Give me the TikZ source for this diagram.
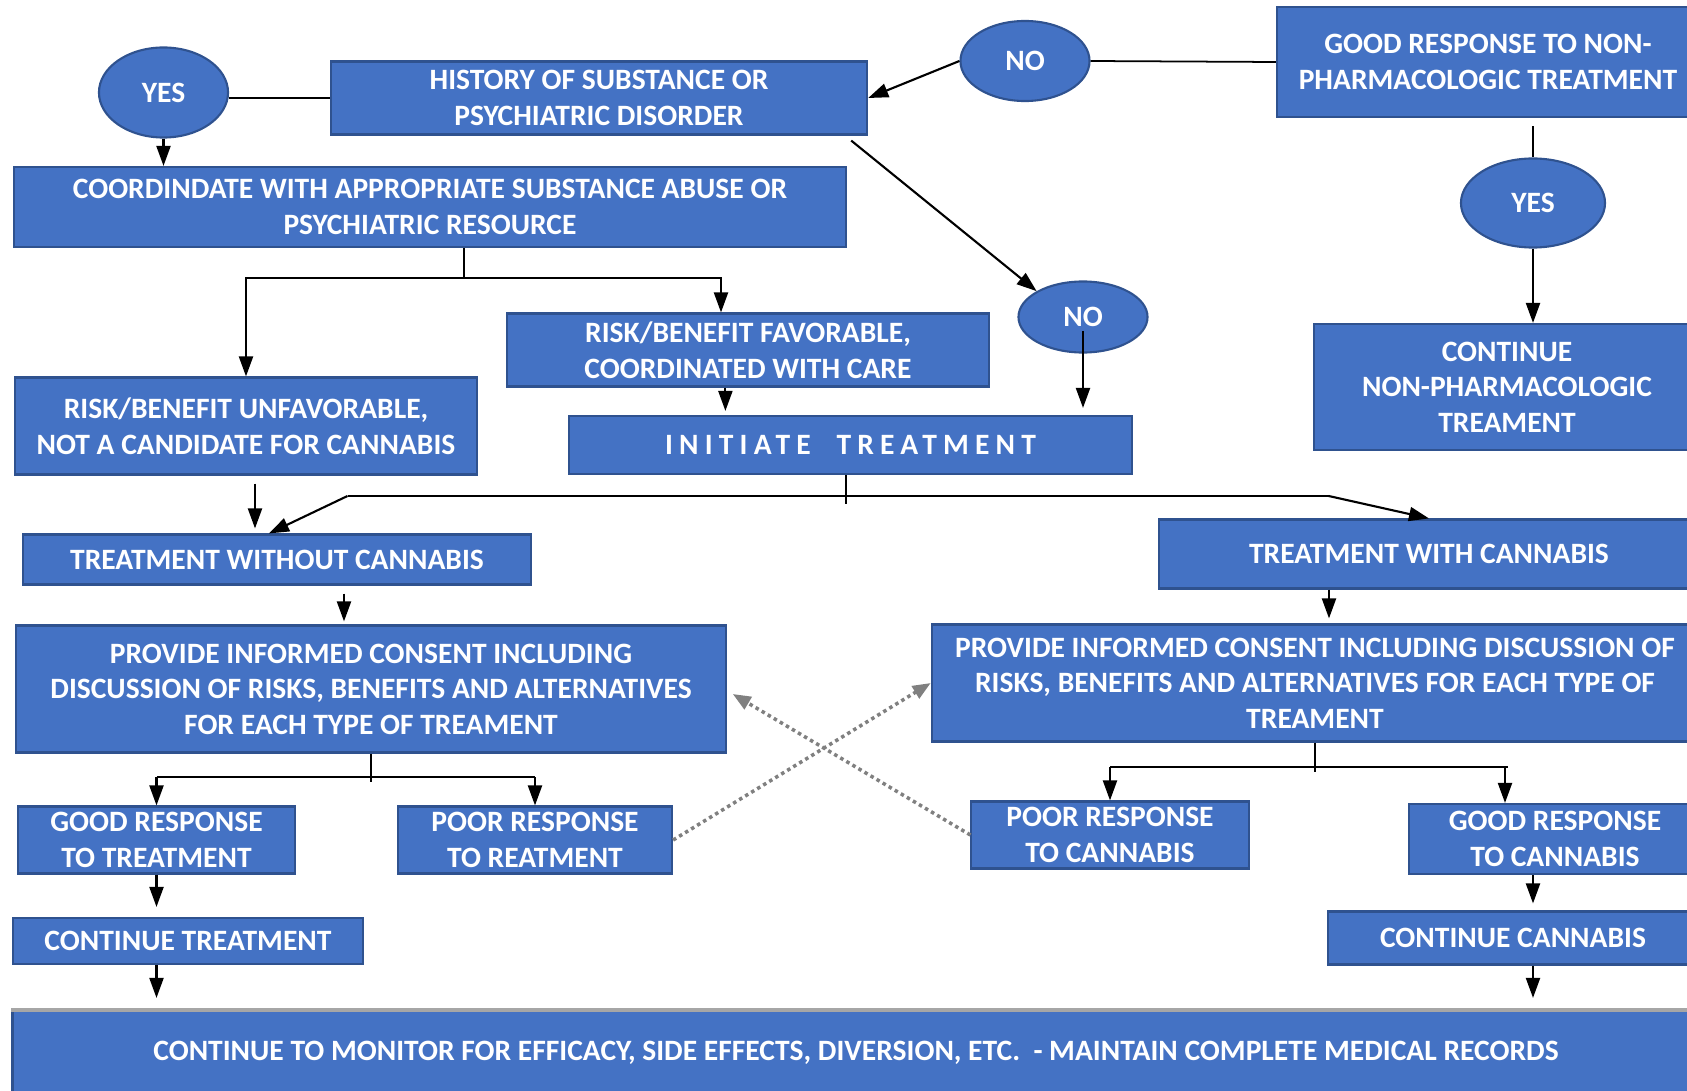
\documentclass[tikz,border=0pt]{standalone}
\usepackage{fontspec}
\setmainfont{Carlito}
\usetikzlibrary{arrows.meta, shapes.geometric, calc}

\definecolor{boxblue}{HTML}{4472C4}
\definecolor{boxline}{HTML}{2F528F}

\begin{document}
\begin{tikzpicture}[
	x=0.01cm, y=-0.01cm,
	block/.style={rectangle, draw=boxline, line width=0.6pt, fill=boxblue, text=white, align=center, inner sep=0pt,
		font=\fontsize{8.4}{10.1}\selectfont\bfseries},
	decision/.style={ellipse, draw=boxline, line width=0.6pt, fill=boxblue, text=white, inner sep=0pt,
		font=\fontsize{8.4}{10.1}\selectfont\bfseries},
	arrow/.style={-{Triangle[length=2mm, width=1.4mm]}, line width=0.6pt},
	link/.style={line width=0.5pt},
	retry/.style={-{Triangle[length=1.8mm, width=1.4mm]}, densely dotted, line width=1pt, gray}
]
	\useasboundingbox (0,0) rectangle (1687,1091);
	\clip (0,0) rectangle (1687,1091);

	% Screening
	\node[block, minimum width=5.36cm, minimum height=0.73cm] (history) at (599,98) {HISTORY OF SUBSTANCE OR\\PSYCHIATRIC DISORDER};
	\node[decision, minimum width=1.29cm, minimum height=0.90cm] (yes1) at (163.5,92.5) {YES};
	\node[decision, minimum width=1.29cm, minimum height=0.80cm] (no1) at (1025,61) {NO};
	\node[block, minimum width=4.22cm, minimum height=1.10cm] (goodnp) at (1488,62) {GOOD RESPONSE TO NON-\\PHARMACOLOGIC TREATMENT};
	\node[block, minimum width=8.32cm, minimum height=0.80cm] (coord) at (430,207) {COORDINDATE WITH APPROPRIATE SUBSTANCE ABUSE OR\\PSYCHIATRIC RESOURCE};
	\node[decision, minimum width=1.44cm, minimum height=0.89cm] (yes2) at (1533,203) {YES};
	\node[decision, minimum width=1.29cm, minimum height=0.71cm] (no2) at (1083,317) {NO};

	% Risk / benefit
	\node[block, minimum width=4.82cm, minimum height=0.73cm] (favorable) at (748,350) {RISK/BENEFIT FAVORABLE,\\COORDINATED WITH CARE};
	\node[block, minimum width=3.85cm, minimum height=1.26cm] (contnp) at (1507,387) {CONTINUE\\NON-PHARMACOLOGIC\\TREAMENT};
	\node[block, minimum width=4.61cm, minimum height=0.97cm] (unfavorable) at (246,426) {RISK/BENEFIT UNFAVORABLE,\\NOT A CANDIDATE FOR CANNABIS};
	\node[block, minimum width=5.63cm, minimum height=0.58cm] (initiate) at (850.5,445) {\addfontfeature{LetterSpace=21}INITIATE\ \ TREATMENT};

	% Treatment branches
	\node[block, minimum width=5.07cm, minimum height=0.50cm] (withoutcan) at (277,559.5) {TREATMENT WITHOUT CANNABIS};
	\node[block, minimum width=5.40cm, minimum height=0.69cm] (withcan) at (1429,554) {TREATMENT WITH CANNABIS};
	\node[block, minimum width=7.09cm, minimum height=1.27cm] (consentL) at (371,689) {PROVIDE INFORMED CONSENT INCLUDING\\DISCUSSION OF RISKS, BENEFITS AND ALTERNATIVES\\FOR EACH TYPE OF TREAMENT};
	\node[block, minimum width=7.66cm, minimum height=1.17cm] (consentR) at (1315,683) {PROVIDE INFORMED CONSENT INCLUDING DISCUSSION OF\\RISKS, BENEFITS AND ALTERNATIVES FOR EACH TYPE OF\\TREAMENT};

	% Responses
	\node[block, minimum width=2.77cm, minimum height=0.67cm] (goodT) at (156.5,840) {GOOD RESPONSE\\TO TREATMENT};
	\node[block, minimum width=2.74cm, minimum height=0.67cm] (poorT) at (535,840) {POOR RESPONSE\\TO REATMENT};
	\node[block, minimum width=2.77cm, minimum height=0.67cm] (poorC) at (1110,835) {POOR RESPONSE\\TO CANNABIS};
	\node[block, minimum width=2.91cm, minimum height=0.70cm] (goodC) at (1555,839) {GOOD RESPONSE\\TO CANNABIS};
	\node[block, minimum width=3.50cm, minimum height=0.46cm] (contT) at (188,941) {CONTINUE TREATMENT};
	\node[block, minimum width=3.70cm, minimum height=0.53cm] (contC) at (1513,938) {CONTINUE CANNABIS};
	\node[block, minimum width=16.86cm, minimum height=0.84cm] (monitor) at (856,1053) {CONTINUE TO MONITOR FOR EFFICACY, SIDE EFFECTS, DIVERSION, ETC.\ \ - MAINTAIN COMPLETE MEDICAL RECORDS};
	\draw[gray!70, line width=1.2pt] (monitor.north west) -- (monitor.north east);

	% Screening connectors
	\draw[link] (history.west) -- (history.west -| yes1.east);
	\draw[arrow] (yes1.south) -- (yes1.south |- coord.north);
	\draw[arrow] (no1.west) -- (history.east);
	\draw[link] (no1.east) -- (goodnp.west);
	\draw[arrow] ($(history.south east)+(-17,5)$) -- (no2.north west);
	\draw[link] ($(goodnp.south -| yes2)+(0,8)$) -- (yes2.north);
	\draw[arrow] (yes2.south) -- (contnp.north -| yes2);
	\draw[arrow] ($(no2.center)+(0,14)$) -- ($(initiate.north -| no2)+(0,-7)$);

	% Coordination fork
	\coordinate (fork1) at (464,277.6);
	\draw[link] (coord.south -| fork1) -- (fork1);
	\draw[arrow] (fork1) -| (unfavorable.north);
	\draw[arrow] (fork1) -| ($(favorable.north)+(-27,0)$);
	\draw[arrow] ($(favorable.south)+(-22.6,0)$) -- ($(favorable.south |- initiate.north)+(-22.6,-4)$);

	% Treatment fork
	\coordinate (forkL) at (347.5,496);
	\coordinate (forkR) at (1328.7,496);
	\draw[link] ($(initiate.south)+(-4.8,0)$) -- ++(0,29);
	\draw[link] (forkL) -- (forkR);
	\draw[arrow] (forkL) -- ($(withoutcan.north)+(-8,0)$);
	\draw[arrow] (forkR) -- (withcan.north);
	\draw[arrow] ($(unfavorable.south)+(9,8)$) -- ($(withoutcan.north -| unfavorable.south)+(9,-5)$);
	\draw[arrow] ($(withoutcan.south)+(67,8)$) -- ($(consentL.north -| withoutcan.south)+(67,-3)$);
	\draw[arrow] ($(withcan.south)+(-100,0)$) -- ($(consentR.north -| withcan.south)+(-100,-5)$);

	% Response forks
	\coordinate (fork3) at (371,777);
	\draw[link] (consentL.south) -- ++(0,28);
	\draw[link] (goodT.north |- fork3) -- (poorT.north |- fork3);
	\draw[arrow] (goodT.north |- fork3) -- (goodT.north);
	\draw[arrow] (poorT.north |- fork3) -- (poorT.north);
	\coordinate (fork4) at (1315,767);
	\draw[link] (consentR.south) -- ++(0,29);
	\draw[link] (poorC.north |- fork4) -- ($(goodC.north |- fork4)+(-47,0)$);
	\draw[arrow] (poorC.north |- fork4) -- (poorC.north);
	\draw[arrow] ($(goodC.north |- fork4)+(-50,0)$) -- ($(goodC.north)+(-50,0)$);

	% Continuation
	\draw[arrow] (goodT.south) -- ($(goodT.south |- contT.north)+(0,-10)$);
	\draw[arrow] (contT.south -| goodT) -- ($(monitor.north -| goodT)+(0,-12)$);
	\draw[arrow] (goodC.south -| yes2) -- ($(contC.north -| yes2)+(0,-7)$);
	\draw[arrow] (contC.south -| yes2) -- ($(monitor.north -| yes2)+(0,-12)$);

	% Switching after poor response
	\draw[retry] (poorT.east) -- (consentR.west);
	\draw[retry] (poorC.west) -- ($(consentL.east)+(6,5)$);
\end{tikzpicture}
\end{document}
